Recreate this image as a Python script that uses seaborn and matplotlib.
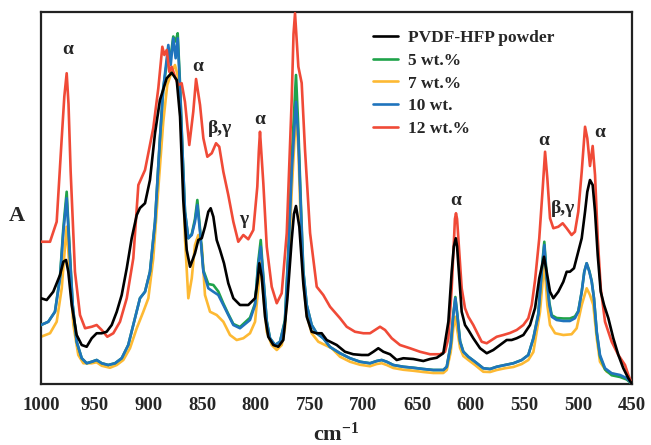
import numpy as np
import pandas as pd
import matplotlib
matplotlib.use("Agg")
import matplotlib.pyplot as plt
import matplotlib.transforms as mtransforms
import seaborn as sns

# ---- FTIR absorbance spectra (wavenumber in cm-1, absorbance in arbitrary units) ----
wn_powder = [1000, 994.7, 988.6, 982.3, 979.2, 976.7, 974.6, 971.4, 966.8, 962.1, 957.5, 952.8,
             948.2, 943.5, 938.9, 934.2, 929.5, 924.9, 920.2, 915.6, 910.9, 907.9, 903.2, 898.6,
             893.9, 889.3, 883.0, 878.4, 873.7, 870.6, 867.6, 864.4, 861.3, 856.7, 853.6, 850.4,
             847.4, 844.3, 842.1, 839.6, 836.5, 833.4, 829.7, 825.7, 821.0, 814.8, 807.1, 800.8,
             798.7, 796.8, 794.6, 791.5, 788.5, 783.8, 779.2, 774.5, 770.8, 766.7, 764.6, 762.7,
             759.6, 755.9, 752.7, 748.1, 743.4, 738.8, 734.1, 724.8, 717.1, 709.4, 701.5, 695.4,
             690.7, 686.1, 681.4, 675.2, 669.0, 662.8, 653.5, 644.2, 637.9, 631.7, 625.6, 620.9,
             617.8, 615.8, 614.0, 612.8, 611.6, 608.5, 605.4, 602.3, 597.7, 591.4, 585.2, 579.1,
             572.8, 566.6, 562.0, 557.3, 551.1, 544.9, 540.2, 536.3, 531.9, 529.4, 526.3, 523.2,
             518.6, 513.9, 510.8, 507.8, 504.0, 500.0, 496.8, 493.7, 491.6, 489.1, 486.6, 484.4,
             481.9, 479.1, 476.0, 472.0, 467.4, 462.7, 458.1, 453.4, 450]
a_powder = [0.343, 0.336, 0.369, 0.436, 0.489, 0.496, 0.449, 0.316, 0.196, 0.156, 0.149, 0.183,
            0.203, 0.203, 0.209, 0.236, 0.289, 0.356, 0.463, 0.583, 0.676, 0.704, 0.723, 0.816,
            1.003, 1.136, 1.223, 1.245, 1.216, 1.069, 0.736, 0.536, 0.469, 0.523, 0.576, 0.583,
            0.629, 0.689, 0.703, 0.669, 0.576, 0.536, 0.483, 0.403, 0.343, 0.316, 0.316, 0.343,
            0.403, 0.483, 0.429, 0.269, 0.189, 0.156, 0.149, 0.176, 0.336, 0.576, 0.680, 0.712,
            0.629, 0.403, 0.269, 0.209, 0.203, 0.203, 0.176, 0.156, 0.129, 0.119, 0.116, 0.116,
            0.129, 0.143, 0.129, 0.119, 0.096, 0.103, 0.100, 0.092, 0.100, 0.105, 0.123, 0.249,
            0.449, 0.550, 0.583, 0.550, 0.476, 0.289, 0.236, 0.216, 0.183, 0.143, 0.123, 0.136,
            0.156, 0.176, 0.176, 0.183, 0.196, 0.236, 0.304, 0.423, 0.509, 0.449, 0.369, 0.343,
            0.369, 0.409, 0.449, 0.449, 0.463, 0.529, 0.583, 0.689, 0.769, 0.816, 0.796, 0.689,
            0.516, 0.369, 0.316, 0.263, 0.183, 0.116, 0.063, 0.023, 0.0]

wn_10 = [1000, 993.2, 987.0, 982.3, 979.2, 976.1, 973.7, 970.5, 966.8, 962.1, 957.5, 952.8,
         948.2, 943.5, 937.4, 931.1, 924.9, 918.8, 912.5, 907.9, 903.2, 898.6, 893.9, 889.3,
         886.2, 883.7, 881.5, 879.3, 876.9, 874.7, 872.8, 870.6, 868.2, 866.0, 862.9, 859.7,
         856.7, 854.5, 852.0, 848.9, 844.3, 839.6, 835.0, 830.3, 825.7, 821.0, 814.8, 805.5,
         800.8, 797.8, 795.5, 793.1, 789.9, 786.9, 782.2, 777.6, 773.0, 769.8, 766.7, 762.7,
         760.5, 758.3, 755.9, 752.7, 748.1, 743.4, 737.3, 731.0, 721.7, 712.4, 703.1, 693.8,
         687.6, 682.9, 678.3, 672.1, 662.8, 653.5, 644.2, 634.9, 625.6, 622.4, 618.7, 616.3,
         614.4, 612.6, 610.0, 607.0, 602.3, 596.1, 588.4, 582.1, 575.9, 568.2, 560.4, 552.6,
         546.5, 541.8, 537.2, 534.0, 531.6, 529.4, 526.9, 524.7, 520.1, 513.9, 507.8, 503.1,
         500.0, 496.8, 494.4, 492.2, 489.7, 487.5, 485.4, 482.8, 479.8, 475.1, 468.9, 461.1,
         454.9, 450]
a_10 = [0.236, 0.249, 0.289, 0.423, 0.609, 0.743, 0.556, 0.316, 0.169, 0.103, 0.083, 0.089,
        0.096, 0.083, 0.076, 0.083, 0.103, 0.156, 0.264, 0.343, 0.369, 0.449, 0.649, 0.983,
        1.183, 1.276, 1.356, 1.276, 1.383, 1.303, 1.383, 1.183, 0.916, 0.689, 0.583, 0.596,
        0.649, 0.716, 0.609, 0.449, 0.383, 0.369, 0.356, 0.316, 0.276, 0.236, 0.223, 0.256,
        0.316, 0.476, 0.549, 0.423, 0.249, 0.183, 0.156, 0.169, 0.249, 0.516, 0.849, 1.129,
        0.983, 0.716, 0.449, 0.316, 0.236, 0.203, 0.183, 0.148, 0.123, 0.103, 0.089, 0.083,
        0.092, 0.096, 0.089, 0.076, 0.069, 0.065, 0.060, 0.056, 0.056, 0.069, 0.156, 0.276,
        0.343, 0.276, 0.169, 0.129, 0.109, 0.089, 0.063, 0.060, 0.069, 0.076, 0.083, 0.096,
        0.116, 0.183, 0.276, 0.449, 0.556, 0.423, 0.316, 0.269, 0.256, 0.252, 0.252, 0.263,
        0.289, 0.369, 0.449, 0.483, 0.449, 0.409, 0.343, 0.209, 0.116, 0.063, 0.043, 0.036,
        0.023, 0.0]

wn_5 = wn_10
a_5 = [0.236, 0.249, 0.289, 0.430, 0.625, 0.769, 0.570, 0.316, 0.169, 0.103, 0.083, 0.089,
       0.096, 0.083, 0.076, 0.083, 0.103, 0.156, 0.264, 0.343, 0.369, 0.449, 0.649, 0.983,
       1.183, 1.260, 1.330, 1.310, 1.390, 1.370, 1.403, 1.200, 0.916, 0.689, 0.583, 0.600,
       0.660, 0.736, 0.620, 0.455, 0.400, 0.396, 0.370, 0.322, 0.280, 0.240, 0.228, 0.265,
       0.322, 0.490, 0.576, 0.430, 0.252, 0.183, 0.156, 0.169, 0.255, 0.540, 0.900, 1.236,
       1.020, 0.740, 0.455, 0.316, 0.236, 0.203, 0.183, 0.148, 0.123, 0.103, 0.089, 0.083,
       0.092, 0.096, 0.089, 0.076, 0.069, 0.065, 0.060, 0.056, 0.056, 0.069, 0.158, 0.280,
       0.348, 0.280, 0.172, 0.130, 0.109, 0.089, 0.063, 0.060, 0.069, 0.076, 0.083, 0.096,
       0.116, 0.183, 0.282, 0.460, 0.569, 0.433, 0.325, 0.275, 0.264, 0.262, 0.262, 0.270,
       0.292, 0.369, 0.449, 0.483, 0.452, 0.412, 0.343, 0.205, 0.110, 0.058, 0.035, 0.028,
       0.018, 0.0]

wn_7 = [1000, 991.6, 985.4, 980.7, 978.3, 976.1, 973.7, 969.9, 965.3, 960.6, 952.8, 948.2,
        943.5, 935.8, 929.5, 923.4, 917.2, 910.9, 904.8, 900.1, 895.5, 890.8, 886.2, 882.5,
        878.4, 875.3, 872.2, 869.1, 866.0, 862.9, 859.7, 856.7, 853.6, 850.4, 847.4, 842.7,
        836.5, 830.3, 824.1, 817.9, 811.7, 805.5, 800.8, 797.8, 795.5, 793.1, 789.9, 785.3,
        780.6, 776.0, 773.0, 769.8, 766.7, 762.7, 760.5, 758.3, 755.9, 752.7, 748.1, 741.9,
        735.7, 729.4, 721.7, 712.4, 703.1, 693.8, 687.6, 682.9, 678.3, 672.1, 662.8, 653.5,
        644.2, 634.9, 625.6, 622.4, 618.7, 616.3, 614.4, 612.6, 610.0, 607.0, 602.3, 596.1,
        588.4, 582.1, 575.9, 568.2, 560.4, 552.6, 546.5, 541.8, 535.6, 531.6, 528.8, 526.3,
        521.6, 513.9, 506.2, 501.5, 496.8, 492.2, 489.1, 486.0, 482.8, 479.8, 473.5, 464.2,
        454.9, 450]
a_7 = [0.189, 0.203, 0.249, 0.383, 0.516, 0.629, 0.476, 0.236, 0.116, 0.083, 0.083, 0.087,
       0.073, 0.065, 0.076, 0.096, 0.143, 0.223, 0.289, 0.343, 0.503, 0.783, 1.049, 1.196,
       1.249, 1.276, 1.223, 0.983, 0.583, 0.343, 0.423, 0.556, 0.596, 0.556, 0.356, 0.289,
       0.276, 0.249, 0.196, 0.176, 0.183, 0.203, 0.249, 0.383, 0.489, 0.356, 0.209, 0.156,
       0.136, 0.156, 0.223, 0.449, 0.769, 1.089, 0.936, 0.649, 0.409, 0.276, 0.203, 0.169,
       0.156, 0.143, 0.109, 0.089, 0.077, 0.071, 0.080, 0.083, 0.076, 0.064, 0.057, 0.053,
       0.048, 0.044, 0.044, 0.056, 0.128, 0.224, 0.269, 0.216, 0.144, 0.112, 0.096, 0.076,
       0.049, 0.048, 0.056, 0.063, 0.068, 0.080, 0.096, 0.128, 0.289, 0.489, 0.316, 0.236,
       0.203, 0.196, 0.199, 0.223, 0.316, 0.383, 0.356, 0.316, 0.183, 0.089, 0.049, 0.036,
       0.023, 0.0]

wn_12 = [1000, 991.6, 985.4, 980.7, 978.3, 976.1, 974.4, 972.4, 968.4, 963.7, 959.0, 952.8,
         948.2, 943.5, 938.3, 932.7, 926.5, 920.2, 914.1, 909.4, 903.2, 895.5, 890.8, 887.1,
         885.2, 883.0, 880.6, 878.4, 875.3, 872.2, 869.1, 866.0, 862.0, 858.3, 855.7, 852.0,
         848.9, 845.2, 841.1, 837.1, 834.1, 830.3, 825.7, 821.0, 816.4, 811.7, 807.1, 802.4,
         798.7, 797.3, 796.2, 795.0, 793.1, 789.9, 785.3, 780.6, 776.0, 771.3, 766.7, 765.0,
         763.6, 760.5, 757.4, 754.3, 749.6, 743.4, 737.3, 731.0, 721.7, 715.5, 707.8, 700.0,
         693.8, 689.2, 684.5, 679.8, 673.6, 665.9, 656.6, 647.3, 637.9, 628.7, 624.0, 620.9,
         617.8, 615.6, 614.8, 613.8, 612.8, 611.6, 608.5, 605.4, 602.3, 597.7, 593.0, 589.9,
         585.2, 579.1, 575.9, 569.8, 563.6, 557.3, 551.1, 546.5, 543.3, 540.2, 536.3, 533.1,
         530.9, 528.8, 526.3, 523.2, 518.6, 514.5, 510.8, 506.2, 503.1, 500.0, 496.8, 493.7,
         491.6, 489.1, 486.6, 484.4, 481.9, 479.1, 475.1, 468.9, 462.7, 456.5, 453.4, 450]
a_12 = [0.569, 0.569, 0.649, 0.984, 1.150, 1.243, 1.120, 0.849, 0.449, 0.276, 0.223, 0.229,
        0.236, 0.216, 0.189, 0.203, 0.249, 0.343, 0.503, 0.796, 0.856, 1.024, 1.184, 1.349,
        1.316, 1.336, 1.249, 1.269, 1.229, 1.196, 1.203, 1.128, 0.956, 1.089, 1.220, 1.116,
        0.983, 0.909, 0.923, 0.963, 0.949, 0.849, 0.756, 0.649, 0.569, 0.596, 0.579, 0.616,
        0.789, 0.930, 1.009, 0.930, 0.803, 0.549, 0.389, 0.323, 0.363, 0.603, 1.136, 1.400,
        1.483, 1.269, 1.204, 0.936, 0.604, 0.389, 0.356, 0.309, 0.263, 0.229, 0.209, 0.203,
        0.203, 0.216, 0.229, 0.216, 0.183, 0.156, 0.143, 0.129, 0.119, 0.119, 0.129, 0.183,
        0.383, 0.583, 0.660, 0.683, 0.660, 0.583, 0.383, 0.303, 0.269, 0.236, 0.196, 0.169,
        0.163, 0.180, 0.189, 0.196, 0.204, 0.216, 0.236, 0.263, 0.316, 0.416, 0.583, 0.783,
        0.929, 0.823, 0.663, 0.623, 0.629, 0.643, 0.623, 0.596, 0.609, 0.689, 0.849, 1.029,
        0.983, 0.872, 0.952, 0.836, 0.583, 0.383, 0.249, 0.169, 0.116, 0.076, 0.036, 0.0]

series_labels = ["PVDF-HFP powder", "5 wt.%", "7 wt.%", "10 wt.", "12 wt.%"]
series_colors = ["#000000", "#1fa34a", "#fdb933", "#1f74bd", "#f04a37"]

# peak assignments: (text, wavenumber, absorbance)
peak_text = ["α", "α", "β,γ", "γ", "α", "α", "α", "β,γ", "α"]
peak_wn = [975.6, 854.2, 833.4, 811.7, 796.2, 613.8, 531.9, 514.5, 479.8]
peak_a = [1.336, 1.269, 1.023, 0.656, 1.059, 0.736, 0.976, 0.703, 1.005]

xtick_values = [1000, 950, 900, 850, 800, 750, 700, 650, 600, 550, 500, 450]

# ---- assemble long table ----
frames = []
for lab, w, a in zip(series_labels,
                     [wn_powder, wn_5, wn_7, wn_10, wn_12],
                     [a_powder, a_5, a_7, a_10, a_12]):
    assert len(w) == len(a), lab
    frames.append(pd.DataFrame({"wavenumber": w, "absorbance": a, "sample": lab}))
spectra = pd.concat(frames, ignore_index=True)

sns.set_theme(style="white")
serif = "Liberation Serif"
plt.rcParams["font.family"] = [serif, "DejaVu Serif"]
plt.rcParams["mathtext.fontset"] = "custom"
plt.rcParams["mathtext.rm"] = serif
plt.rcParams["mathtext.bf"] = serif + ":bold"

fig = plt.figure(figsize=(6.51, 4.45), dpi=100)
ax = fig.add_axes([41 / 651, 1 - 384 / 445, 591 / 651, 372 / 445])

palette = dict(zip(series_labels, series_colors))
draw_order = ["7 wt.%", "5 wt.%", "10 wt.", "12 wt.%", "PVDF-HFP powder"]
for z, lab in enumerate(draw_order):
    sns.lineplot(data=spectra[spectra["sample"] == lab], x="wavenumber", y="absorbance",
                 color=palette[lab], label=lab, linewidth=1.9, estimator=None,
                 sort=True, ax=ax, zorder=2 + z)
for ln in ax.lines:
    ln.set_solid_joinstyle("round")
    ln.set_solid_capstyle("round")

ax.set_xlim(1000, 450)
ax.set_ylim(0, 1.488)

ax.set_xticks(xtick_values)
ax.set_xticklabels([str(v) for v in xtick_values], fontsize=13.5, fontweight="bold",
                   family=serif)
shift = mtransforms.ScaledTranslation(6 / 100, 0, fig.dpi_scale_trans)
for lbl in ax.get_xticklabels():
    lbl.set_transform(lbl.get_transform() + shift)

ax.set_yticks(np.linspace(0.0588, 0.0588 + 14 * 0.0988, 15))
ax.set_yticklabels([])
ax.tick_params(axis="both", direction="out", length=3.5, width=1.0, color="#333333")
ax.tick_params(axis="x", pad=6)

for sp in ax.spines.values():
    sp.set_color("#222222")
    sp.set_linewidth(1.6)

ax.set_xlabel(r"$\mathbf{cm^{-1}}$", fontsize=16, labelpad=6)
ax.set_ylabel("A", fontsize=16, fontweight="bold", family=serif, rotation=0,
              va="center", ha="center")
ax.yaxis.set_label_coords(-0.041, 0.452)

for t, w, a in zip(peak_text, peak_wn, peak_a):
    ax.text(w, a, t, fontsize=14, fontweight="bold", family=serif,
            ha="center", va="center", zorder=10)

handles, labels = ax.get_legend_handles_labels()
hmap = dict(zip(labels, handles))
leg = ax.legend([hmap[l] for l in series_labels], series_labels,
                loc="upper left", bbox_to_anchor=(0.562, 0.952), frameon=False,
                prop={"family": serif, "weight": "bold", "size": 12.5},
                handlelength=1.45, handletextpad=0.55, labelspacing=0.38,
                borderpad=0, borderaxespad=0)

fig.savefig("out.png", dpi=100)
